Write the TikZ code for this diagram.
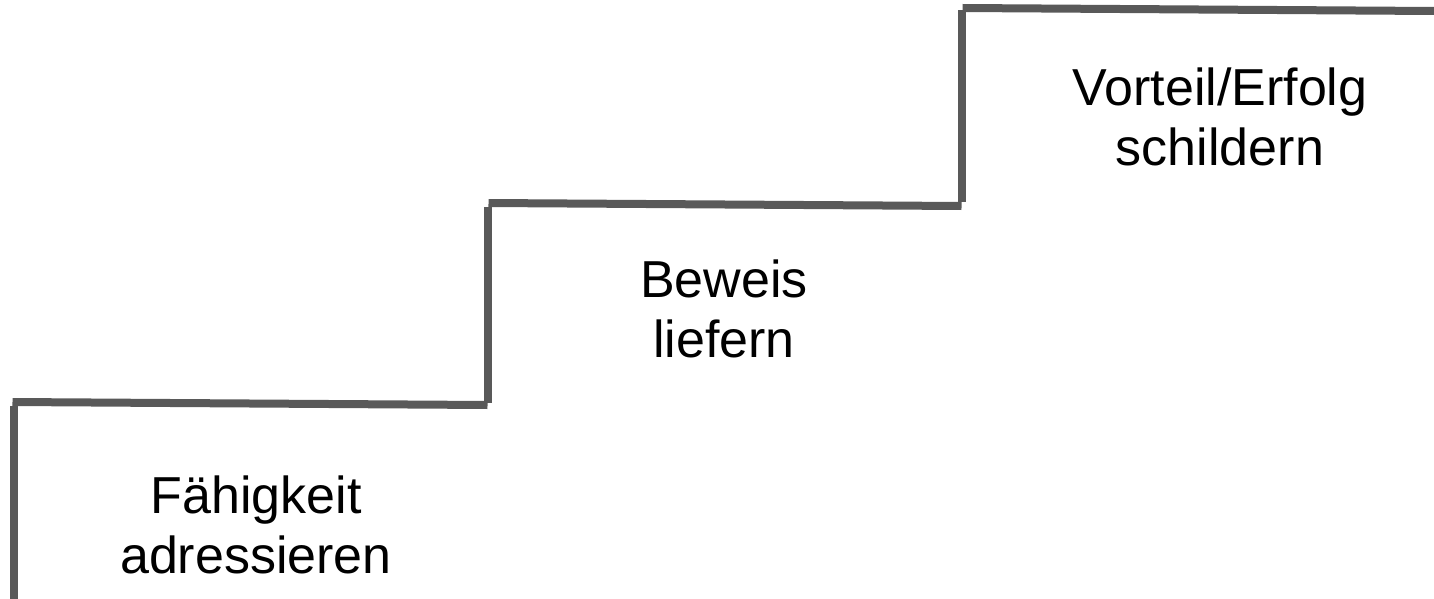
\documentclass[tikz,border=0pt]{standalone}
\usepackage{fontspec}
\setmainfont{Liberation Sans}
\usepackage{xcolor}
\definecolor{stairgray}{HTML}{595959}

\begin{document}
\begin{tikzpicture}[x=0.5pt, y=-0.5pt,
	stair/.style={draw=stairgray, line width=4pt},
	label/.style={align=center, font=\fontsize{26}{30}\selectfont, inner sep=0pt}]
			\useasboundingbox (0,0) rectangle (1434,599);
			
			\coordinate (s0) at (13.5,600);
			\coordinate (s1) at (13.5,402);
			\coordinate (s2) at (487.5,405);
			\coordinate (s3) at (487.5,203);
			\coordinate (s4) at (961.5,206);
			\coordinate (s5) at (961.5,8);
			\coordinate (s6) at (1434,11);
			
			\draw[stair] (s0) -- ([yshift=-2pt]s1);
			\draw[stair] ([xshift=-0.5pt]s1) -- (s2);
			\draw[stair] ([yshift=1pt]s2) -- ([yshift=-2pt]s3);
			\draw[stair] ([xshift=0.5pt]s3) -- (s4);
			\draw[stair] ([yshift=2pt]s4) -- ([yshift=-1pt]s5);
			\draw[stair] ([xshift=0.5pt]s5) -- (s6);
			
			\node[label] (step1) at (256,525) {Fähigkeit\\adressieren};
			\node[label] (step2) at (724,309) {Beweis\\liefern};
			\node[label] (step3) at (1220,117) {Vorteil/Erfolg\\schildern};
		\end{tikzpicture}
\end{document}
